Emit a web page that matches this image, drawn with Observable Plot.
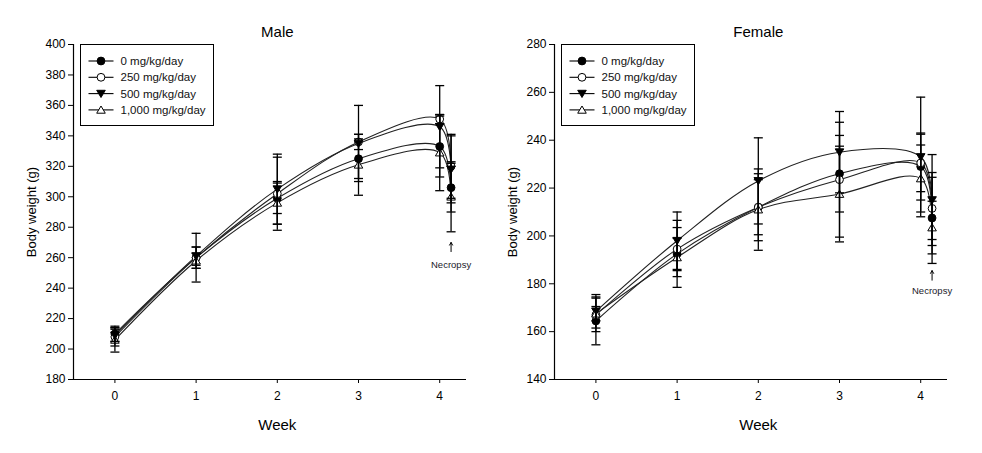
<!DOCTYPE html>
<html>
<head>
<meta charset="utf-8">
<script src="https://cdn.jsdelivr.net/npm/d3@7"></script>
<script src="https://cdn.jsdelivr.net/npm/@observablehq/plot@0.6"></script>
<style>
  html, body { margin: 0; padding: 0; background: #fff; }
  #chart { display: flex; width: 982px; height: 453px; }
</style>
</head>
<body>
<div id="chart"></div>
<script>
// ---- data ----
const weeks = [0, 1, 2, 3, 4, 4.14];          // last point = necropsy
const tickWeeks = [0, 1, 2, 3, 4];
const groups = ["0 mg/kg/day", "250 mg/kg/day", "500 mg/kg/day", "1,000 mg/kg/day"];

// Male body weight (g): mean and SD per group (rows follow `groups`)
const maleMeans = [
  [210, 260, 299, 325, 333, 306],
  [208, 260, 302, 336, 351, 320],
  [209, 261, 305, 335, 346, 318],
  [206, 258, 296, 321, 329, 300]
];
const maleSDs = [
  [5, 16, 10, 13, 20, 16],
  [6, 7, 24, 5, 3, 21],
  [4, 6, 23, 25, 27, 22],
  [8, 5, 14, 20, 25, 23]
];
// Female body weight (g)
const femaleMeans = [
  [164.5, 192.5, 212, 226, 229, 207.5],
  [167, 194.5, 212, 223.5, 230.5, 211.5],
  [168.5, 198, 223, 235, 233, 215],
  [167.5, 191, 211, 217.5, 224, 203.5]
];
const femaleSDs = [
  [10, 14, 14, 16, 14, 19],
  [7, 9, 11.5, 24, 12, 13],
  [7, 12, 18, 17, 25, 19],
  [3, 8, 17, 20, 14, 11]
];
const maleYTicks = d3.range(180, 401, 20);
const femaleYTicks = d3.range(140, 281, 20);
// Necropsy annotation (arrow tip, arrow tail, label position in g)
const maleNecropsy = [{week: 4.14, tip: 270, tail: 264, label: 255, text: "Necropsy"}];
const femaleNecropsy = [{week: 4.14, tip: 185.5, tail: 181.5, label: 177, text: "Necropsy"}];

// ---- symbols ----
const triDown = {draw(ctx, size) {
  const r = Math.sqrt(size / Math.PI);
  ctx.moveTo(0, r * 1.0); ctx.lineTo(-r * 1.1, -r * 0.85); ctx.lineTo(r * 1.1, -r * 0.85); ctx.closePath();
}};
const triUp = {draw(ctx, size) {
  const r = Math.sqrt(size / Math.PI);
  ctx.moveTo(0, -r * 1.0); ctx.lineTo(-r * 1.1, r * 0.85); ctx.lineTo(r * 1.1, r * 0.85); ctx.closePath();
}};
const cap = {draw(ctx, size) {
  const r = Math.sqrt(size / Math.PI);
  ctx.moveTo(-r, 0); ctx.lineTo(r, 0);
}};
const markerStyles = [
  {symbol: "circle", fill: "black"},
  {symbol: "circle", fill: "white"},
  {symbol: triDown, fill: "black"},
  {symbol: triUp, fill: "white"}
];

const font = "'Liberation Sans', Arial, Helvetica, sans-serif";
const xDomain = [-0.51, 4.33];

function panel({title, means, sds, yDomain, yTicks, width, marginLeft, marginRight, necropsy}) {
  const rows = [];
  groups.forEach((g, gi) => weeks.forEach((w, wi) => {
    const m = means[gi][wi], s = sds[gi][wi];
    rows.push({group: g, gi, week: w, mean: m, lo: m - s, hi: m + s});
  }));
  const titleX = d3.mean(tickWeeks);
  const marks = [
    Plot.ruleX([xDomain[0]], {stroke: "black", strokeWidth: 1.2}),
    Plot.ruleY([yDomain[0]], {stroke: "black", strokeWidth: 1.2}),
    Plot.axisX({ticks: tickWeeks, tickSize: 4, tickPadding: 8, tickFormat: d => String(d), label: null, fontSize: 12}),
    Plot.axisY({ticks: yTicks, tickSize: 5, tickPadding: 3, tickFormat: d => String(d), label: null, fontSize: 12}),
    Plot.line(rows, {x: "week", y: "mean", z: "group", curve: "catmull-rom", stroke: "#222", strokeWidth: 1.1}),
  ];
  groups.forEach((g, gi) => {
    const sub = rows.filter(d => d.gi === gi);
    marks.push(Plot.dot(sub, {x: "week", y: "mean", r: 3.9, symbol: markerStyles[gi].symbol,
      fill: markerStyles[gi].fill, stroke: "black", strokeWidth: 1}));
  });
  marks.push(
    Plot.ruleX(rows, {x: "week", y1: "lo", y2: "hi", stroke: "black", strokeWidth: 1.3}),
    Plot.dot(rows, {x: "week", y: "hi", symbol: cap, r: 4.5, fill: "none", stroke: "black", strokeWidth: 1.3}),
    Plot.dot(rows, {x: "week", y: "lo", symbol: cap, r: 4.5, fill: "none", stroke: "black", strokeWidth: 1.3}),
    Plot.arrow(necropsy, {x1: "week", x2: "week", y1: "tail", y2: "tip", headLength: 5, stroke: "black", strokeWidth: 1}),
    Plot.text(necropsy, {x: "week", y: "label", text: "text", fontSize: 9.5, fill: "#1a1a2a"}),
    Plot.text([title], {x: titleX, frameAnchor: "top", lineAnchor: "middle", dy: -12, fontSize: 15}),
    Plot.text(["Week"], {x: titleX, frameAnchor: "bottom", lineAnchor: "middle", dy: 46, fontSize: 15}),
    Plot.text(["Body weight (g)"], {frameAnchor: "left", rotate: -90, textAnchor: "middle", lineAnchor: "middle", dx: -42, fontSize: 13})
  );
  const svg = Plot.plot({
    width, height: 453, marginTop: 44, marginBottom: 74, marginLeft, marginRight,
    style: {fontFamily: font, fontSize: "12px", color: "black", background: "white", overflow: "visible"},
    x: {domain: xDomain},
    y: {domain: yDomain},
    marks
  });
  // legend box (top-left inside frame)
  const lg = d3.select(svg).append("g")
    .attr("transform", `translate(${marginLeft + 7.5},${44.5})`)
    .attr("font-family", font).attr("font-size", 11.5).attr("text-anchor", "start");
  lg.append("rect").attr("width", 133).attr("height", 81).attr("fill", "white").attr("stroke", "black").attr("stroke-width", 1);
  groups.forEach((g, gi) => {
    const y = 16.5 + gi * 16.3;
    const row = lg.append("g").attr("transform", `translate(0,${y})`);
    row.append("line").attr("x1", 8).attr("x2", 33).attr("stroke", "black").attr("stroke-width", 1.1);
    row.append("path").attr("transform", "translate(20.5,0)")
      .attr("d", d3.symbol(markerStyles[gi].symbol === "circle" ? d3.symbolCircle : markerStyles[gi].symbol, Math.PI * 3.9 * 3.9)())
      .attr("fill", markerStyles[gi].fill).attr("stroke", "black");
    row.append("text").attr("x", 40).attr("dy", "0.35em").attr("text-anchor", "start").attr("fill", "#111").text(g);
  });
  return svg;
}

const chart = document.getElementById("chart");
chart.append(panel({title: "Male", means: maleMeans, sds: maleSDs, yDomain: [180, 400], yTicks: maleYTicks,
  width: 490, marginLeft: 73, marginRight: 24, necropsy: maleNecropsy}));
chart.append(panel({title: "Female", means: femaleMeans, sds: femaleSDs, yDomain: [140, 280], yTicks: femaleYTicks,
  width: 492, marginLeft: 64, marginRight: 35, necropsy: femaleNecropsy}));
</script>
</body>
</html>
